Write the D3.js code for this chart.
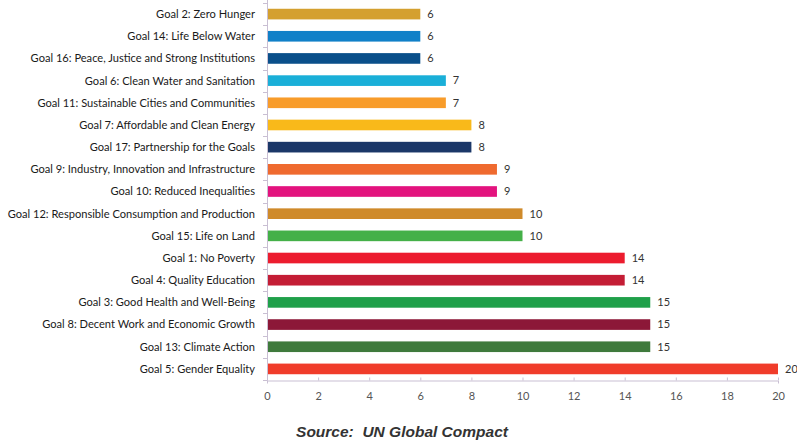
<!DOCTYPE html>
<html><head><meta charset="utf-8">
<script src="https://cdn.jsdelivr.net/npm/d3@7"></script>
<style>body{margin:0;background:#fff;}svg{display:block;}</style>
</head><body>
<svg id="chart" width="797" height="443"></svg>
<script>
const goals = [
  "Goal 2: Zero Hunger",
  "Goal 14: Life Below Water",
  "Goal 16: Peace, Justice and Strong Institutions",
  "Goal 6: Clean Water and Sanitation",
  "Goal 11: Sustainable Cities and Communities",
  "Goal 7: Affordable and Clean Energy",
  "Goal 17: Partnership for the Goals",
  "Goal 9: Industry, Innovation and Infrastructure",
  "Goal 10: Reduced Inequalities",
  "Goal 12: Responsible Consumption and Production",
  "Goal 15: Life on Land",
  "Goal 1: No Poverty",
  "Goal 4: Quality Education",
  "Goal 3: Good Health and Well-Being",
  "Goal 8: Decent Work and Economic Growth",
  "Goal 13: Climate Action",
  "Goal 5: Gender Equality"
];
const counts = [6, 6, 6, 7, 7, 8, 8, 9, 9, 10, 10, 14, 14, 15, 15, 15, 20];
const barColors = ["#D4A02F","#1080C8","#0A4F8A","#1AAFD8","#F89C2A","#F9B91A","#1B3768","#EF6A2F","#E3137E","#CF8A2A","#44B048","#EC1C2E","#C41D35","#1FA04A","#8C1838","#3F7A3C","#F03C2A"];
const xTicks = [0, 2, 4, 6, 8, 10, 12, 14, 16, 18, 20];
const sourceText = "Source:  UN Global Compact";

const svg = d3.select("#chart");
const x = d3.scaleLinear().domain([0, 20]).range([267, 778]);
const y = d3.scaleBand().domain(goals).range([3, 380]).paddingInner(0.52).paddingOuter(0.26);

// axes
const axisColor = "#C9BFD3";
const xAxis = svg.append("g").attr("transform", "translate(0,380.5)")
  .call(d3.axisBottom(x).tickValues(xTicks).tickSize(3).tickPadding(9));
xAxis.select(".domain").attr("stroke", axisColor);
xAxis.selectAll(".tick line").attr("stroke", axisColor).attr("y1", -3).attr("y2", 0);
xAxis.selectAll(".tick text").attr("fill", "#555").style("font-family", "Lato, 'Open Sans', sans-serif").style("font-size", "11px");

// y axis line with tick marks between categories
svg.append("line").attr("x1", 267.5).attr("x2", 267.5).attr("y1", 0).attr("y2", 380.5).attr("stroke", axisColor);
const boundaries = d3.range(goals.length + 1).map(i => 3 + i * (377 / goals.length));
svg.append("g").selectAll("line").data(boundaries).join("line")
  .attr("x1", 263).attr("x2", 267.5)
  .attr("y1", d => Math.round(d) + 0.5).attr("y2", d => Math.round(d) + 0.5)
  .attr("stroke", axisColor);

// bars
svg.append("g").selectAll("rect").data(goals).join("rect")
  .attr("x", x(0) + 1)
  .attr("y", d => y(d))
  .attr("width", (d, i) => x(counts[i]) - x(0) - 1)
  .attr("height", y.bandwidth())
  .attr("fill", (d, i) => barColors[i]);

// category labels
svg.append("g").selectAll("text").data(goals).join("text")
  .attr("x", 255)
  .attr("y", d => y(d) + y.bandwidth() / 2)
  .attr("dy", "0.35em")
  .attr("text-anchor", "end")
  .attr("fill", "#1a1a1a")
  .style("font-family", "Lato, 'Open Sans', sans-serif")
  .style("font-size", "11.1px")
  .text(d => d);

// value labels
svg.append("g").selectAll("text").data(goals).join("text")
  .attr("x", (d, i) => x(counts[i]) + 7)
  .attr("y", d => y(d) + y.bandwidth() / 2)
  .attr("dy", "0.35em")
  .attr("fill", "#333")
  .style("font-family", "Lato, 'Open Sans', sans-serif")
  .style("font-size", "11px")
  .text((d, i) => counts[i]);

// source
svg.append("text")
  .attr("x", 402).attr("y", 437)
  .attr("text-anchor", "middle")
  .attr("fill", "#333")
  .style("font-family", "'Liberation Sans', Arial, sans-serif")
  .style("font-size", "15.5px")
  .style("font-weight", "bold")
  .style("font-style", "italic")
  .style("white-space", "pre")
  .text(sourceText);
</script>
</body></html>
